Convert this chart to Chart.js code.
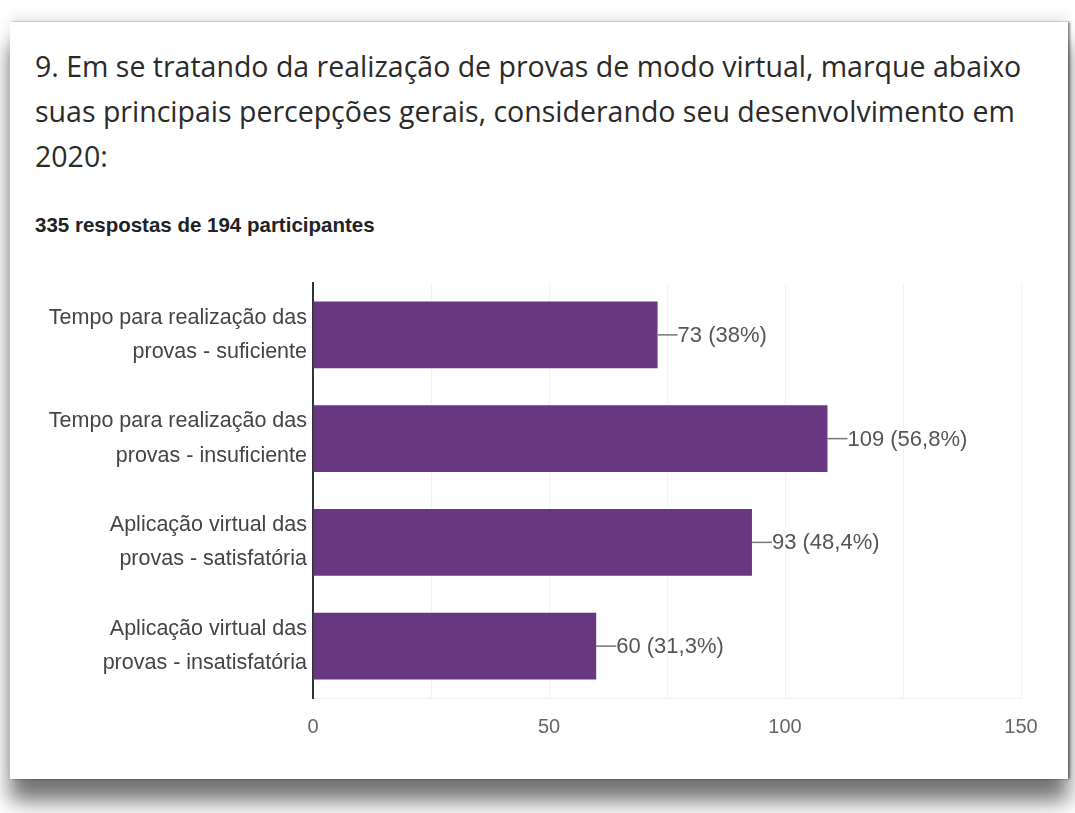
<!DOCTYPE html>
<html>
<head>
<meta charset="utf-8">
<script src="https://cdn.jsdelivr.net/npm/chart.js@4/dist/chart.umd.min.js"></script>
<style>
    body { margin: 0; width: 1075px; height: 813px; overflow: hidden; background: #fff; position: relative; }
    .card {
        position: absolute; left: 10px; top: 22px; width: 1058px; height: 757px;
        background: #fff;
        box-shadow: 0 22px 20px rgba(0, 0, 0, 0.55), 2px 0 2px rgba(0, 0, 0, 0.45), 0 -6px 10px rgba(0, 0, 0, 0.08);
    }
    .title {
        position: absolute; left: 35px; top: 44px; width: 1000px;
        font-family: "Open Sans", sans-serif; font-size: 28.5px; line-height: 45px; color: #2a2a2a;
    }
    .subtitle {
        position: absolute; left: 35px; top: 213px;
        font-family: "Liberation Sans", Arial, sans-serif; font-weight: bold; font-size: 20.5px; line-height: 24px; color: #222;
    }
    #chartWrap { position: absolute; left: 0; top: 250px; width: 1075px; height: 520px; }
</style>
</head>
<body>
<div class="card"></div>
<div class="title">9. Em se tratando da realização de provas de modo virtual, marque abaixo suas principais percepções gerais, considerando seu desenvolvimento em 2020:</div>
<div class="subtitle">335 respostas de 194 participantes</div>
<div id="chartWrap"><canvas id="chart"></canvas></div>
<script>
// Chart data
const categories = [
    ['Tempo para realização das', 'provas - suficiente'],
    ['Tempo para realização das', 'provas - insuficiente'],
    ['Aplicação virtual das', 'provas - satisfatória'],
    ['Aplicação virtual das', 'provas - insatisfatória']
];
const counts = [73, 109, 93, 60];
const percentLabels = ['38%', '56,8%', '48,4%', '31,3%'];
const xTicks = [0, 50, 100, 150];

// Draw "—73 (38%)" style labels at the end of each bar
const barLabels = {
    id: 'barLabels',
    afterDatasetsDraw(chart) {
        const ctx = chart.ctx;
        const meta = chart.getDatasetMeta(0);
        ctx.save();
        ctx.font = '22px "Liberation Sans", Arial, sans-serif';
        ctx.textBaseline = 'middle';
        meta.data.forEach((bar, i) => {
            ctx.strokeStyle = '#777';
            ctx.lineWidth = 1.5;
            ctx.beginPath();
            ctx.moveTo(bar.x, bar.y);
            ctx.lineTo(bar.x + 20, bar.y);
            ctx.stroke();
            ctx.fillStyle = '#555';
            ctx.fillText(counts[i] + ' (' + percentLabels[i] + ')', bar.x + 20, bar.y + 1);
        });
        ctx.restore();
    }
};

const ctx = document.getElementById('chart').getContext('2d');
new Chart(ctx, {
    type: 'bar',
    data: {
        labels: categories,
        datasets: [{
            data: counts,
            backgroundColor: '#673782',
            barPercentage: 0.645,
            categoryPercentage: 1
        }]
    },
    options: {
        indexAxis: 'y',
        responsive: true,
        maintainAspectRatio: false,
        animation: false,
        layout: { padding: { top: 33, right: 54, left: 0, bottom: 0 } },
        plugins: {
            legend: { display: false },
            tooltip: { enabled: false }
        },
        scales: {
            x: {
                min: 0,
                max: 150,
                afterFit: (scale) => {
                    scale.height = 72;
                    scale.paddingLeft = 0;
                    scale.paddingRight = 0;
                },
                ticks: {
                    stepSize: 25,
                    padding: 17,
                    color: '#666',
                    font: { family: '"Liberation Sans", Arial, sans-serif', size: 20 },
                    callback: (v) => xTicks.includes(v) ? v : ''
                },
                grid: {
                    drawTicks: false,
                    color: (c) => c.tick && c.tick.value === 0 ? 'rgba(0,0,0,0)' : '#f2f2f2'
                },
                border: { color: '#f0f0f0' }
            },
            y: {
                afterFit: (scale) => {
                    scale.width = 313;
                    scale.paddingTop = 0;
                    scale.paddingBottom = 0;
                },
                ticks: {
                    padding: 6,
                    color: '#444',
                    font: { family: '"Liberation Sans", Arial, sans-serif', size: 21.5, lineHeight: 1.6 }
                },
                grid: { display: false, drawTicks: false },
                border: { color: '#333', width: 2 }
            }
        }
    },
    plugins: [barLabels]
});
</script>
</body>
</html>
